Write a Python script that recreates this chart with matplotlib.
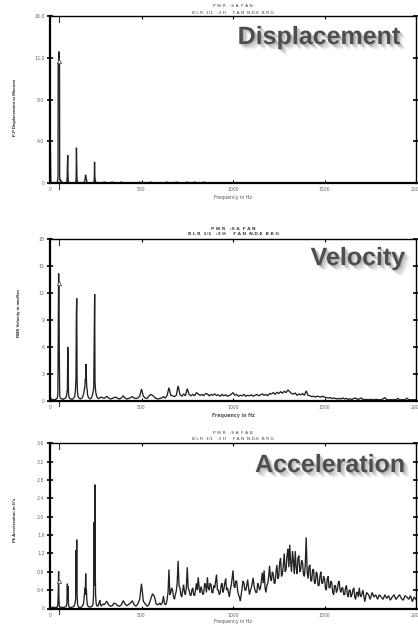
import numpy as np
import matplotlib
matplotlib.use("Agg")
import matplotlib.pyplot as plt
import matplotlib.patheffects as pe

# ---------------- data ----------------
titles = ["P W R   :S A  F A N", "B L R  1/1   :3 H     F A N  N.D.E  B R G"]
panel_names = ["Displacement", "Velocity", "Acceleration"]
ylabels = ["P-P Displacement in Microns", "RMS Velocity in mm/Sec", "Pk Acceleration in G's"]
xlabel = "Frequency in Hz"
x_ticks = [0, 500, 1000, 1500, 2000]
x_ticklabels = ["0", "500", "1000", "1500", "2000"]
disp_yticks = [0, 4, 8, 12, 16]
disp_yticklabels = ["0", "4.0", "8.0", "12.0", "16.0"]
vel_yticks = [0, 3, 6, 9, 12, 15, 18]
vel_yticklabels = ["0", "3", "6", "9", "12", "15", "18"]
acc_yticks = [0, 0.4, 0.8, 1.2, 1.6, 2.0, 2.4, 2.8, 3.2, 3.6]
acc_yticklabels = ["0", "0.4", "0.8", "1.2", "1.6", "2.0", "2.4", "2.8", "3.2", "3.6"]
cursor_hz = 49
cursor_values = [11.7, 13.1, 0.60]

# low-frequency region (Hz, amplitude)
disp_low = [(0, 4.5), (1.5, 4.3), (3, 2.1), (4.5, 0.3), (6, 0.1), (10, 0.05), (15, 0.04), (20, 0.08),
            (25, 0.05), (30, 0.04), (35, 0.06), (40, 0.1), (43, 0.4), (44, 0.6), (44.5, 11.2),
            (46, 11.6), (47.5, 11.4), (49, 12.6), (50.5, 11.6), (52, 11.4), (53, 0.6), (54.5, 0.3),
            (56, 0.35), (58, 0.1), (62, 0.25), (66, 0.1), (70, 0.05), (75, 0.04), (80, 0.05), (85, 0.04),
            (90, 0.1), (92, 0.15), (94, 0.6), (95.5, 2.0), (97, 2.7), (98.5, 0.7), (100, 0.2),
            (103, 0.1), (108, 0.05), (115, 0.04), (120, 0.05), (125, 0.04), (130, 0.05), (135, 0.06),
            (141, 0.1), (143, 0.5), (144.5, 3.4), (146, 1.85), (147.5, 0.4), (150, 0.15), (155, 0.06),
            (160, 0.04), (170, 0.05), (180, 0.06), (185, 0.1), (190, 0.15), (192, 0.5), (194, 0.8),
            (196, 0.75), (198, 0.4), (200, 0.35), (202, 0.1), (206, 0.05), (212, 0.04), (220, 0.05),
            (228, 0.04), (235, 0.06), (240, 0.12), (242, 0.5), (243.5, 2.05), (245, 0.7), (247, 0.3),
            (250, 0.1), (255, 0.05), (262, 0.04), (270, 0.05), (280, 0.04), (290, 0.1), (295, 0.05)]

vel_low = [(0, 0.4), (3, 0.35), (6, 0.2), (10, 0.15), (15, 0.1), (20, 0.12), (25, 0.1), (30, 0.15),
           (35, 0.2), (40, 0.3), (43, 0.8), (45, 7.3), (47, 14.2), (49, 13.0), (51, 4.9), (53, 0.6),
           (56, 0.3), (60, 0.25), (65, 0.2), (70, 0.15), (75, 0.2), (80, 0.25), (85, 0.3), (90, 0.5),
           (93, 1.0), (95, 1.2), (97, 6.0), (99, 5.0), (101, 0.9), (104, 0.4), (108, 0.25), (115, 0.2),
           (120, 0.15), (125, 0.2), (130, 0.3), (135, 0.5), (139, 1.2), (142, 2.5), (144, 9.5),
           (146, 11.4), (148, 2.5), (150, 1.0), (153, 0.5), (158, 0.3), (165, 0.2), (170, 0.25),
           (175, 0.3), (180, 0.5), (185, 0.9), (190, 1.5), (193, 2.4), (195, 2.2), (197, 4.1),
           (199, 2.4), (201, 1.4), (203, 1.3), (205, 0.7), (209, 0.4), (215, 0.25), (220, 0.2),
           (225, 0.3), (230, 0.5), (235, 0.9), (239, 1.4), (242, 8.4), (244, 11.9), (246, 2.1),
           (248, 1.4), (251, 0.8), (255, 0.5), (260, 0.3), (265, 0.25), (270, 0.3), (275, 0.35),
           (280, 0.4), (285, 0.35), (290, 0.3), (295, 0.3)]

acc_low = [(0, 0.03), (10, 0.02), (20, 0.03), (30, 0.02), (40, 0.03), (43, 0.1), (45, 0.32), (47, 0.81),
           (49, 0.2), (51, 0.05), (55, 0.02), (60, 0.03), (70, 0.02), (80, 0.03), (88, 0.04), (92, 0.1),
           (95, 0.54), (97, 0.2), (99, 0.49), (101, 0.1), (104, 0.03), (110, 0.02), (120, 0.03),
           (130, 0.04), (136, 0.1), (140, 0.2), (142, 1.27), (144, 0.35), (146, 1.50), (148, 0.3),
           (151, 0.08), (156, 0.03), (165, 0.02), (175, 0.04), (183, 0.1), (188, 0.3), (191, 0.45),
           (193, 0.3), (195, 0.76), (197, 0.4), (199, 0.42), (201, 0.2), (204, 0.08), (210, 0.04),
           (220, 0.03), (230, 0.05), (235, 0.1), (238, 0.3), (241, 1.88), (243, 0.5), (245, 2.70),
           (247, 0.96), (249, 0.3), (252, 0.12), (256, 0.06), (262, 0.05), (268, 0.12), (272, 0.18),
           (276, 0.08), (280, 0.05), (285, 0.08), (290, 0.1), (295, 0.08)]

# higher-frequency regions, one value per spectral line
hi_freq = np.arange(300, 2001, 10)          # 10 Hz lines, 300..2000 Hz
acc_freq_a = np.arange(300, 600, 10)        # 10 Hz lines, 300..590 Hz
acc_freq_mid = np.arange(600, 1700, 5)      # 5 Hz lines, 600..1695 Hz
acc_freq_b = np.arange(1700, 2001, 10)      # 10 Hz lines, 1700..2000 Hz

disp_high = [0.12, 0.03, 0.02, 0.03, 0.12, 0.02, 0.03, 0.02, 0.03, 0.12,
             0.02, 0.03, 0.02, 0.03, 0.02, 0.03, 0.02, 0.03, 0.02, 0.12,
             0.02, 0.03, 0.02, 0.03, 0.02, 0.12, 0.02, 0.03, 0.02, 0.03,
             0.02, 0.03, 0.02, 0.03, 0.12, 0.02, 0.03, 0.02, 0.03, 0.12,
             0.02, 0.03, 0.02, 0.03, 0.02, 0.12, 0.02, 0.03, 0.02, 0.12,
             0.02, 0.03, 0.02, 0.03, 0.12, 0.02, 0.03, 0.02, 0.03, 0.02,
             0.02, 0.03, 0.02, 0.03, 0.02, 0.03, 0.02, 0.03, 0.02, 0.03,
             0.02, 0.03, 0.02, 0.03, 0.02, 0.03, 0.02, 0.03, 0.02, 0.03,
             0.02, 0.03, 0.02, 0.03, 0.02, 0.03, 0.02, 0.03, 0.02, 0.03,
             0.02, 0.03, 0.02, 0.03, 0.02, 0.03, 0.02, 0.03, 0.02, 0.03,
             0.02, 0.03, 0.02, 0.03, 0.02, 0.03, 0.02, 0.03, 0.02, 0.03,
             0.02, 0.03, 0.02, 0.03, 0.02, 0.03, 0.02, 0.03, 0.02, 0.03,
             0.02, 0.03, 0.02, 0.03, 0.02, 0.03, 0.02, 0.03, 0.02, 0.03,
             0.02, 0.03, 0.02, 0.03, 0.02, 0.03, 0.02, 0.03, 0.02, 0.03,
             0.02, 0.03, 0.02, 0.03, 0.02, 0.03, 0.02, 0.03, 0.02, 0.03,
             0.02, 0.03, 0.02, 0.03, 0.02, 0.03, 0.02, 0.03, 0.02, 0.03,
             0.02, 0.03, 0.02, 0.03, 0.02, 0.03, 0.02, 0.03, 0.02, 0.03,
             0.02]

vel_high = [0.3, 0.5, 0.3, 0.2, 0.25, 0.35, 0.4, 0.25, 0.2, 0.3,
            0.55, 0.3, 0.2, 0.25, 0.35, 0.45, 0.3, 0.25, 0.3, 0.5,
            1.3, 0.5, 0.3, 0.25, 0.5, 0.7, 0.6, 0.4, 0.25, 0.2,
            0.25, 0.3, 0.45, 0.3, 0.6, 1.45, 0.6, 0.55, 0.45, 0.6,
            1.65, 0.7, 0.5, 0.75, 0.55, 1.35, 0.7, 0.55, 0.7, 0.55,
            0.9, 0.75, 0.6, 0.7, 0.55, 0.8, 0.75, 0.55, 0.7, 0.6,
            0.75, 0.6, 0.65, 0.5, 0.7, 0.55, 0.65, 0.5, 0.6, 0.7,
            0.9, 0.6, 0.7, 0.5, 0.6, 0.55, 0.7, 0.5, 0.6, 0.55,
            0.65, 0.5, 0.6, 0.7, 0.55, 0.65, 0.75, 0.6, 0.7, 0.55,
            0.8, 0.75, 0.9, 0.7, 0.95, 0.8, 1.0, 0.85, 1.05, 0.9,
            1.2, 1.0, 0.8, 0.75, 0.85, 0.6, 0.75, 0.65, 0.8, 0.6,
            1.1, 0.6, 0.55, 0.45, 0.5, 0.4, 0.5, 0.45, 0.4, 0.5,
            0.4, 0.35, 0.3, 0.35, 0.25, 0.3, 0.25, 0.2, 0.25, 0.2,
            0.3, 0.2, 0.25, 0.15, 0.2, 0.15, 0.25, 0.3, 0.15, 0.2,
            0.3, 0.15, 0.12, 0.15, 0.1, 0.15, 0.12, 0.1, 0.15, 0.12,
            0.1, 0.12, 0.2, 0.35, 0.12, 0.1, 0.12, 0.1, 0.12, 0.1,
            0.25, 0.12, 0.1, 0.12, 0.1, 0.28, 0.12, 0.1, 0.12, 0.1,
            0.12]

acc_high_a = [0.10, 0.16, 0.08, 0.05, 0.06, 0.12, 0.10, 0.06, 0.05, 0.08,
              0.17, 0.10, 0.06, 0.09, 0.12, 0.17, 0.08, 0.05, 0.10, 0.20,
              0.54, 0.16, 0.10, 0.05, 0.08, 0.20, 0.32, 0.27, 0.10, 0.08]

acc_mid = [0.12, 0.08, 0.10, 0.15, 0.27, 0.12, 0.08, 0.10, 0.20, 0.35,
           0.85, 0.30, 0.35, 0.45, 0.40, 0.25, 0.20, 0.30, 0.38, 0.55,
           1.04, 0.50, 0.45, 0.30, 0.25, 0.40, 0.52, 0.35, 0.30, 0.45,
           0.90, 0.45, 0.40, 0.30, 0.28, 0.40, 0.45, 0.30, 0.28, 0.40,
           0.55, 0.40, 0.68, 0.45, 0.34, 0.48, 0.40, 0.30, 0.34, 0.55,
           0.50, 0.35, 0.68, 0.45, 0.40, 0.55, 0.52, 0.35, 0.34, 0.50,
           0.45, 0.60, 0.74, 0.40, 0.40, 0.30, 0.34, 0.50, 0.55, 0.35,
           0.42, 0.55, 0.65, 0.40, 0.45, 0.35, 0.25, 0.40, 0.50, 0.65,
           0.83, 0.50, 0.45, 0.60, 0.60, 0.40, 0.30, 0.25, 0.16, 0.30,
           0.45, 0.60, 0.55, 0.40, 0.40, 0.50, 0.63, 0.45, 0.30, 0.40,
           0.45, 0.55, 0.67, 0.50, 0.40, 0.35, 0.35, 0.55, 0.50, 0.40,
           0.45, 0.60, 0.78, 0.55, 0.83, 0.45, 0.35, 0.50, 0.55, 0.70,
           0.93, 0.65, 0.60, 0.80, 0.75, 0.55, 0.55, 0.80, 0.95, 0.65,
           0.70, 1.00, 1.10, 0.70, 0.75, 0.95, 1.20, 0.80, 0.85, 1.15,
           1.30, 0.90, 1.39, 1.00, 0.80, 1.25, 1.05, 0.75, 1.25, 0.90,
           0.75, 1.10, 1.15, 0.80, 0.85, 1.05, 1.00, 0.75, 0.70, 0.95,
           1.55, 0.80, 0.65, 0.90, 0.95, 0.60, 0.60, 0.85, 0.85, 0.55,
           0.55, 0.80, 0.75, 0.50, 0.50, 0.70, 0.80, 0.55, 0.55, 0.70,
           0.65, 0.45, 0.40, 0.65, 0.70, 0.45, 0.45, 0.60, 0.55, 0.35,
           0.30, 0.50, 0.50, 0.35, 0.40, 0.55, 0.60, 0.40, 0.35, 0.45,
           0.45, 0.30, 0.30, 0.45, 0.50, 0.30, 0.25, 0.40, 0.40, 0.25,
           0.30, 0.40, 0.45, 0.25, 0.20, 0.35, 0.35, 0.25, 0.45, 0.30]

acc_high_b = [0.25, 0.40, 0.15, 0.35, 0.30, 0.20, 0.35, 0.25, 0.30, 0.20,
              0.30, 0.25, 0.20, 0.30, 0.22, 0.28, 0.18, 0.25, 0.30, 0.20,
              0.25, 0.30, 0.22, 0.18, 0.28, 0.25, 0.20, 0.28, 0.15, 0.25,
              0.20]

# ---------------- figure ----------------
W, H = 418, 624
fig = plt.figure(figsize=(W / 100, H / 100), dpi=100)
fig.patch.set_facecolor("white")


def px_axes(left, top, right, bottom):
    return fig.add_axes([left / W, 1 - bottom / H, (right - left) / W, (bottom - top) / H])


def fx(x):
    return x / W


def fy(y):
    return 1 - y / H


def series(low, segments):
    f = [a for a, b in low]
    v = [b for a, b in low]
    for fr, vals in segments:
        f += list(fr)
        v += list(vals)
    return f, v


panels = [
    dict(box=(50, 16, 416, 183.3), data=series(disp_low, [(hi_freq, disp_high)]), ylim=16,
         yt=disp_yticks, ytl=disp_yticklabels, t1=6, t2=13, xl=197, word=(400, 44), ylx=15,
         yly=107, bold=False),
    dict(box=(50, 239.3, 416, 400.7), data=series(vel_low, [(hi_freq, vel_high)]), ylim=18,
         yt=vel_yticks, ytl=vel_yticklabels, t1=229.5, t2=234, xl=415, word=(405, 265), ylx=19,
         yly=313, bold=True),
    dict(box=(50, 443.3, 416, 608.5),
         data=series(acc_low, [(acc_freq_a, acc_high_a), (acc_freq_mid, acc_mid), (acc_freq_b, acc_high_b)]),
         ylim=3.6, yt=acc_yticks, ytl=acc_yticklabels, t1=433, t2=439, xl=621, word=(405, 472),
         ylx=15, yly=520, bold=False),
]

shadow = [pe.SimplePatchShadow(offset=(4, -4), shadow_rgbFace="#9a9a9a", alpha=0.12),
          pe.SimplePatchShadow(offset=(3, -3), shadow_rgbFace="#8a8a8a", alpha=0.18),
          pe.SimplePatchShadow(offset=(2, -2), shadow_rgbFace="#7a7a7a", alpha=0.25),
          pe.SimplePatchShadow(offset=(1, -1), shadow_rgbFace="#6a6a6a", alpha=0.3),
          pe.Normal()]

line_color = "#222222"
for i, p in enumerate(panels):
    ax = px_axes(*p["box"])
    f, v = p["data"]
    ax.plot(f, v, color=line_color, lw=0.95, solid_joinstyle="miter")
    ax.set_xlim(0, 2000)
    ax.set_ylim(0, p["ylim"])
    ax.set_xticks(x_ticks)
    ax.set_xticklabels(x_ticklabels)
    ax.set_yticks(p["yt"])
    ax.set_yticklabels(p["ytl"])
    for s in ["top", "right"]:
        ax.spines[s].set_linewidth(1.0)
    ax.spines["left"].set_linewidth(1.6)
    ax.spines["bottom"].set_linewidth(1.6)
    ax.tick_params(axis="y", which="major", direction="inout", length=4, width=1.2,
                   labelsize=3.3, labelcolor="#666666", pad=2, right=True)
    ax.tick_params(axis="x", which="major", direction="in", length=2, width=0.8,
                   labelsize=3.3, labelcolor="#666666", pad=3, top=True)
    # cursor marks
    ax.axvline(cursor_hz, ymin=0.965, ymax=1.0, color="#333333", lw=0.8)
    ax.axvline(cursor_hz, ymin=-0.035, ymax=0.0, color="#333333", lw=0.8, clip_on=False)
    ax.plot([cursor_hz], [cursor_values[i]], marker="^", ms=3, mfc="white", mec="#555555", mew=0.6)

    cx = fx((p["box"][0] + p["box"][2]) / 2)
    weight = "bold" if p["bold"] else "normal"
    fig.text(cx, fy(p["t1"]), titles[0], ha="center", va="center", fontsize=3.2,
             color="#444444", fontweight=weight)
    fig.text(cx, fy(p["t2"]), titles[1], ha="center", va="center", fontsize=3.2,
             color="#444444", fontweight=weight)
    fig.text(cx, fy(p["xl"]), xlabel, ha="center", va="center", fontsize=3.4,
             color="#555555", fontweight=weight)
    fig.text(fx(p["ylx"]), fy(p["yly"]), ylabels[i], rotation=90, ha="center", va="center",
             fontsize=3.1, fontweight="bold", color="#222222", family="Liberation Sans")
    fig.text(fx(p["word"][0]), fy(p["word"][1]), panel_names[i], ha="right", va="baseline",
             fontsize=18, fontweight="bold", color="#4e4e4e", family="Liberation Sans",
             path_effects=shadow)

fig.savefig("out.png", dpi=100, facecolor="white")
